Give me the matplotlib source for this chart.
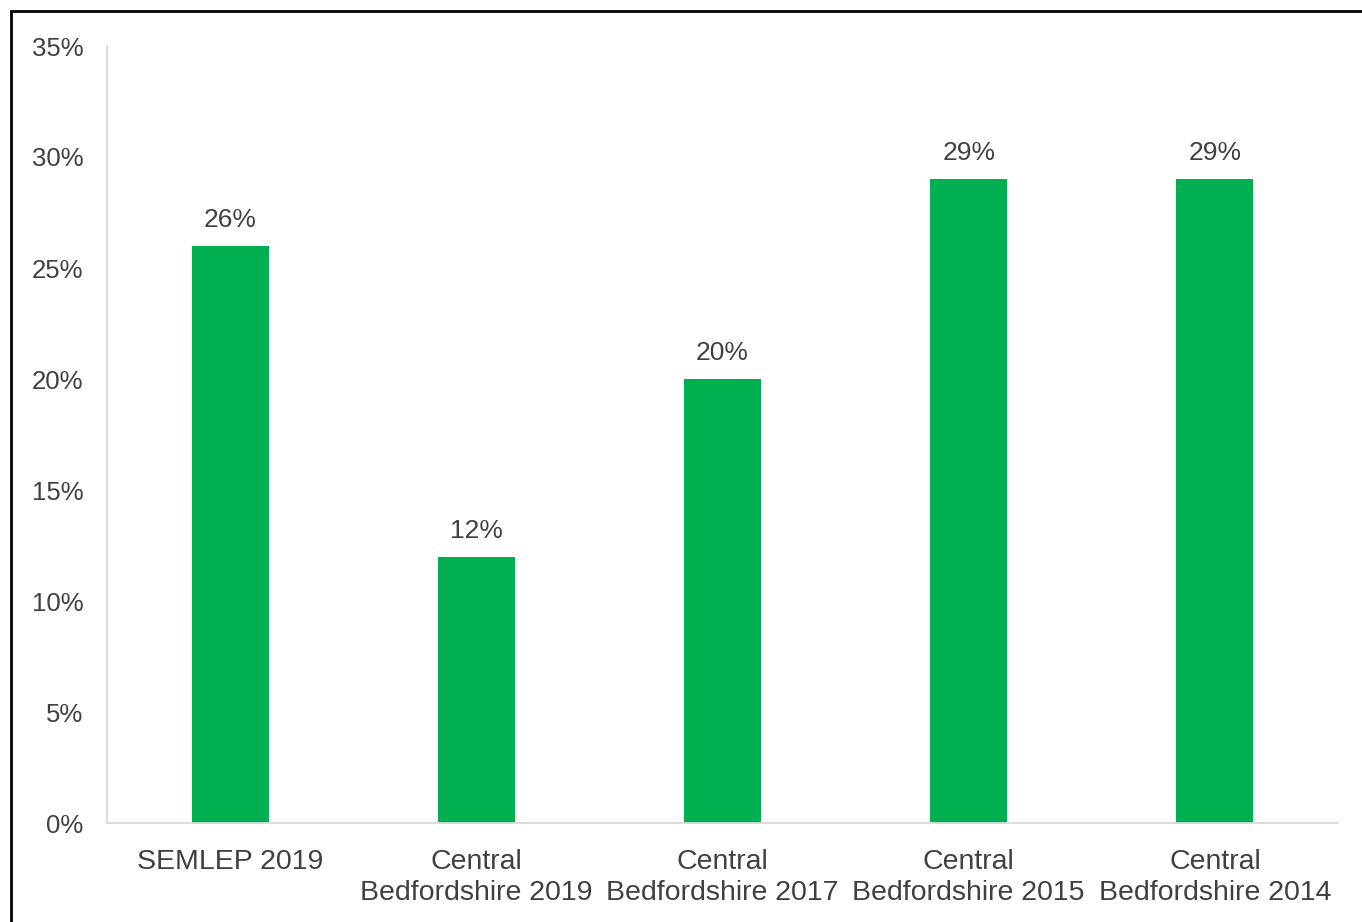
import matplotlib
matplotlib.use("Agg")
import matplotlib.pyplot as plt
from matplotlib.patches import Rectangle
from matplotlib.ticker import FuncFormatter

categories = ["SEMLEP 2019", "Central\nBedfordshire 2019", "Central\nBedfordshire 2017",
              "Central\nBedfordshire 2015", "Central\nBedfordshire 2014"]
values = [26, 12, 20, 29, 29]
y_ticks = [0, 5, 10, 15, 20, 25, 30, 35]

plt.rcParams['font.family'] = ['Liberation Sans', 'DejaVu Sans']
text_color = "#404040"
bar_color = "#00B050"
axis_color = "#D9D9D9"

W, H = 1362, 922
fig = plt.figure(figsize=(W / 100, H / 100), dpi=100)
fig.patch.set_facecolor("white")

# frame around the chart area (top and left edges visible)
fig.patches.append(Rectangle((11 / W, -0.1), 1.2, (H - 11) / H + 0.1,
                             transform=fig.transFigure, fill=False,
                             edgecolor="black", linewidth=2.0))

ax = fig.add_axes([107 / W, (H - 823) / H, (1338 - 107) / W, (823 - 46) / H])
x = range(len(categories))
bars = ax.bar(x, values, width=0.313, color=bar_color, zorder=2)

ax.set_xlim(-0.5, len(categories) - 0.5)
ax.set_ylim(0, 35)
ax.set_yticks(y_ticks)
ax.yaxis.set_major_formatter(FuncFormatter(lambda v, p: f"{v:.0f}%"))
ax.set_xticks(list(x))
ax.set_xticklabels(categories, linespacing=1.29, fontsize=20.5)

for s in ["top", "right"]:
    ax.spines[s].set_visible(False)
for s in ["left", "bottom"]:
    ax.spines[s].set_color(axis_color)
    ax.spines[s].set_linewidth(1.3)

ax.tick_params(axis="both", length=0, colors=text_color)
ax.tick_params(axis="y", labelsize=18.5, pad=17)
ax.tick_params(axis="x", pad=18.5)

for b, v in zip(bars, values):
    ax.annotate(f"{v}%", (b.get_x() + b.get_width() / 2, v),
                xytext=(0, 10), textcoords="offset points",
                ha="center", va="bottom", fontsize=19, color=text_color)

fig.savefig("out.png", dpi=100, facecolor="white")
